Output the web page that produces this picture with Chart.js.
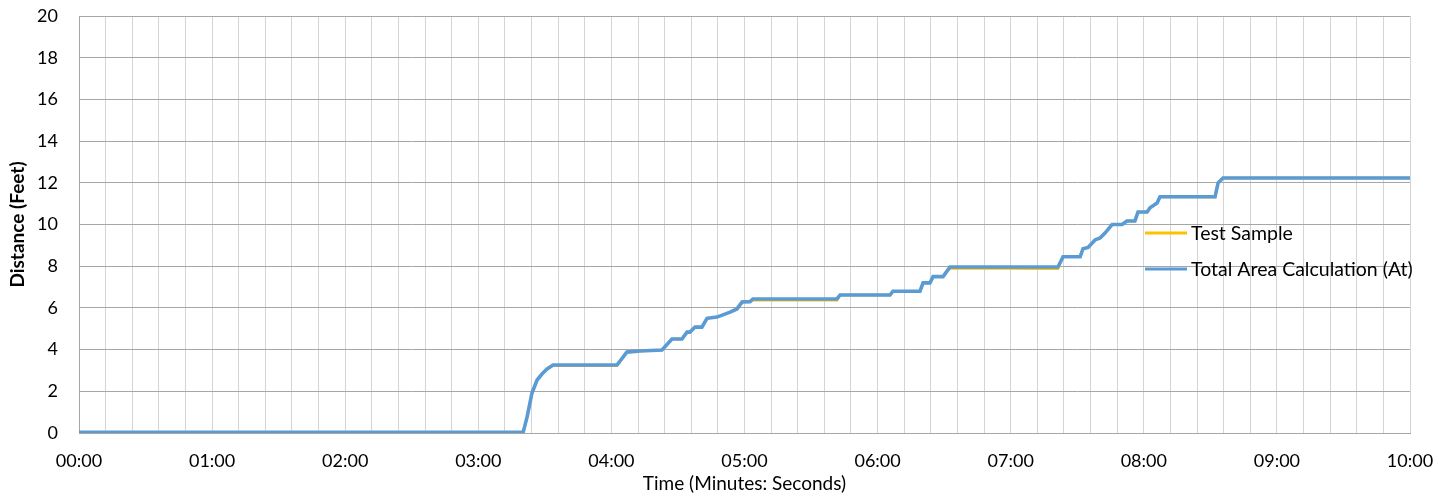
<!DOCTYPE html>
<html>
<head>
<meta charset="utf-8">
<script src="https://cdn.jsdelivr.net/npm/chart.js@4.4.0/dist/chart.umd.min.js"></script>
<style>
    html, body { margin: 0; padding: 0; background: #ffffff; }
    #wrap { width: 1455px; height: 498px; position: relative; }
</style>
</head>
<body>
<div id="wrap"><canvas id="chart"></canvas></div>
<script>
// time in seconds from start
const times = [0, 200.2, 202.0, 204.2, 206.5, 208.7, 211.0, 213.7, 242.5, 247.0, 252.9, 262.8,
    267.3, 271.8, 274.1, 275.4, 277.7, 280.8, 283.1, 287.6, 293.5, 296.6, 298.9, 302.5, 303.8,
    341.7, 343.1, 365.6, 366.9, 379.1, 380.5, 383.6, 385.0, 389.5, 392.6, 441.3, 443.6, 451.3,
    452.6, 454.9, 458.0, 460.3, 462.5, 465.7, 470.2, 472.4, 476.0, 477.4, 481.5, 482.8, 486.0,
    487.3, 512.1, 513.5, 515.7, 600];

const testSample = [0, 0, 0.77, 1.92, 2.54, 2.83, 3.07, 3.24, 3.23, 3.88, 3.93, 3.98,
    4.51, 4.51, 4.84, 4.84, 5.08, 5.08, 5.5, 5.56, 5.8, 5.95, 6.28, 6.3, 6.38,
    6.37, 6.62, 6.62, 6.8, 6.8, 7.2, 7.2, 7.5, 7.5, 7.9, 7.88, 8.45, 8.45,
    8.84, 8.9, 9.26, 9.35, 9.59, 10.0, 10.0, 10.17, 10.17, 10.6, 10.6, 10.8, 11.03,
    11.33, 11.31, 12.0, 12.23, 12.23];

const totalArea = [0.03, 0.03, 0.77, 1.92, 2.54, 2.83, 3.07, 3.26, 3.26, 3.88, 3.93, 3.98,
    4.51, 4.51, 4.84, 4.84, 5.08, 5.08, 5.5, 5.56, 5.8, 5.95, 6.28, 6.3, 6.43,
    6.43, 6.62, 6.62, 6.8, 6.8, 7.2, 7.2, 7.5, 7.5, 7.96, 7.96, 8.45, 8.45,
    8.84, 8.9, 9.26, 9.35, 9.59, 10.0, 10.0, 10.17, 10.17, 10.6, 10.6, 10.8, 11.03,
    11.33, 11.33, 12.0, 12.23, 12.23];

const seriesNames = ['Test Sample', 'Total Area Calculation (At)'];
const seriesColors = ['#ffc000', '#5b9bd5'];

const FONT = 'Lato, "Open Sans", sans-serif';

function toPoints(vals) {
    return times.map((t, i) => ({ x: t, y: vals[i] }));
}

function mmss(v) {
    let m = Math.floor(v / 60);
    let s = Math.round(v % 60);
    return String(m).padStart(2, '0') + ':' + String(s).padStart(2, '0');
}

// legend drawn inside the plot area, like the original
const insideLegend = {
    id: 'insideLegend',
    afterDatasetsDraw(chart) {
        const ctx = chart.ctx;
        const area = chart.chartArea;
        const x0 = area.right - 265;
        const rows = [233, 269];
        ctx.save();
        ctx.font = '19.5px ' + FONT;
        ctx.textBaseline = 'middle';
        ctx.fillStyle = '#000000';
        seriesNames.forEach((name, i) => {
            ctx.strokeStyle = seriesColors[i];
            ctx.lineWidth = 3;
            ctx.beginPath();
            ctx.moveTo(x0, rows[i]);
            ctx.lineTo(x0 + 42, rows[i]);
            ctx.stroke();
            ctx.fillText(name, x0 + 46, rows[i] + 1);
        });
        ctx.restore();
    }
};

new Chart(document.getElementById('chart').getContext('2d'), {
    type: 'line',
    data: {
        datasets: [
            {
                label: seriesNames[0],
                data: toPoints(testSample),
                borderColor: seriesColors[0],
                borderWidth: 2.5,
                pointRadius: 0,
                tension: 0,
                order: 2
            },
            {
                label: seriesNames[1],
                data: toPoints(totalArea),
                borderColor: seriesColors[1],
                borderWidth: 3.6,
                pointRadius: 0,
                tension: 0,
                order: 1
            }
        ]
    },
    options: {
        responsive: true,
        maintainAspectRatio: false,
        animation: false,
        layout: { padding: { top: 16, right: 45, left: 0, bottom: 0 } },
        plugins: {
            legend: { display: false },
            tooltip: { enabled: false }
        },
        scales: {
            x: {
                type: 'linear',
                min: 0,
                max: 600,
                afterFit: s => { s.height = 65; },
                ticks: {
                    stepSize: 12,
                    autoSkip: false,
                    maxRotation: 0,
                    padding: 17,
                    color: '#000000',
                    font: { family: FONT, size: 18 },
                    callback: v => (v % 60 === 0 ? mmss(v) : '')
                },
                grid: { color: '#d4d4d4', drawTicks: false },
                border: { color: '#a6a6a6' },
                title: {
                    display: true,
                    text: 'Time (Minutes: Seconds)',
                    color: '#000000',
                    font: { family: FONT, size: 19 },
                    padding: { top: 0, bottom: 3 }
                }
            },
            y: {
                min: 0,
                max: 20,
                afterFit: s => { s.width = 79; },
                ticks: {
                    stepSize: 2,
                    padding: 0,
                    color: '#000000',
                    font: { family: FONT, size: 18 }
                },
                // invisible tick marks give the gap between labels and axis
                grid: { color: '#a6a6a6', drawTicks: true, tickLength: 21, tickColor: 'rgba(0,0,0,0)' },
                border: { color: '#a6a6a6' },
                title: {
                    display: true,
                    text: 'Distance (Feet)',
                    color: '#000000',
                    font: { family: FONT, size: 19, weight: 'bold' },
                    padding: { top: 6, bottom: 0 }
                }
            }
        }
    },
    plugins: [insideLegend]
});
</script>
</body>
</html>
